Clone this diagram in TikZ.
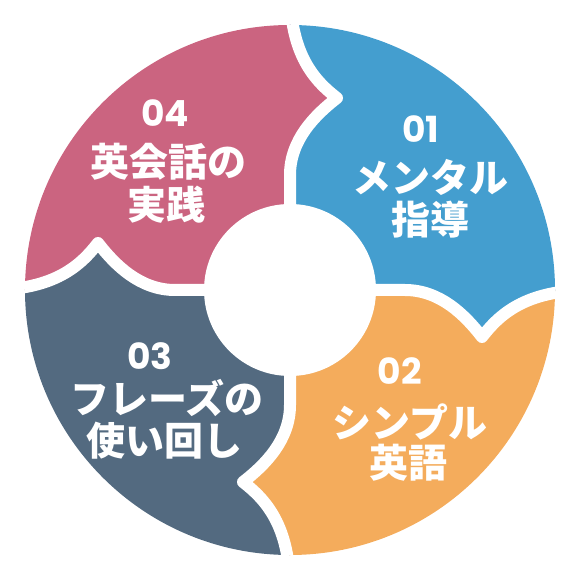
\documentclass[tikz,border=0pt]{standalone}
\usepackage{fontspec}
\newfontfamily\jpfont{Noto Sans CJK JP}
\newfontfamily\numfont{Poppins}
\definecolor{cblue}{HTML}{449ECF}
\definecolor{corange}{HTML}{F4AC5C}
\definecolor{cslate}{HTML}{536A80}
\definecolor{cpink}{HTML}{CB6480}
\tikzset{
  num/.style={text=white,font=\numfont\bfseries\fontsize{36}{36}\selectfont,anchor=base,inner sep=0pt},
  lbl/.style={text=white,font=\jpfont\bfseries\fontsize{39}{39}\selectfont,inner sep=0pt},
  gap/.style={white,line width=12pt,line join=round},
}
\begin{document}
\begin{tikzpicture}[x=1pt,y=1pt]
\useasboundingbox (-290,-290) rectangle (290,290);
\begin{scope}
  \clip (0,0) circle (265);
  \fill[cblue] (0,0) rectangle (300,300);
  \fill[corange] (0,0) rectangle (300,-300);
  \fill[cslate] (0,0) rectangle (-300,-300);
  \fill[cpink] (0,0) rectangle (-300,300);
  \foreach \a/\c in {0/cblue,90/cpink,180/cslate,270/corange} {
    \fill[\c,rotate=\a] (115,0) .. controls (150,0) and (175,-25) .. (192,-47)
      .. controls (209,-25) and (235,0) .. (300,0) -- cycle;
  }
  \foreach \a in {0,90,180,270} {
    \draw[gap,rotate=\a] (0,0) -- (115,0) .. controls (150,0) and (175,-25) .. (192,-47)
      .. controls (209,-25) and (235,0) .. (300,0);
  }
\end{scope}
\fill[white] (0,0) circle (86);
% texts
\node[num] (n1) at (131,147) {01};
\node[lbl] (a1) at (140,113) {メンタル};
\node[lbl] (b1) at (140,70) {指導};
\node[num] (n2) at (110,-94) {02};
\node[lbl] (a2) at (120,-132) {シンプル};
\node[lbl] (b2) at (118,-173) {英語};
\node[num] (n3) at (-140,-79) {03};
\node[lbl] (a3) at (-123,-108) {フレーズの};
\node[lbl] (b3) at (-125,-151) {使い回し};
\node[num] (n4) at (-125,163) {04};
\node[lbl] (a4) at (-121,128) {英会話の};
\node[lbl] (b4) at (-123,85) {実践};
\end{tikzpicture}
\end{document}
